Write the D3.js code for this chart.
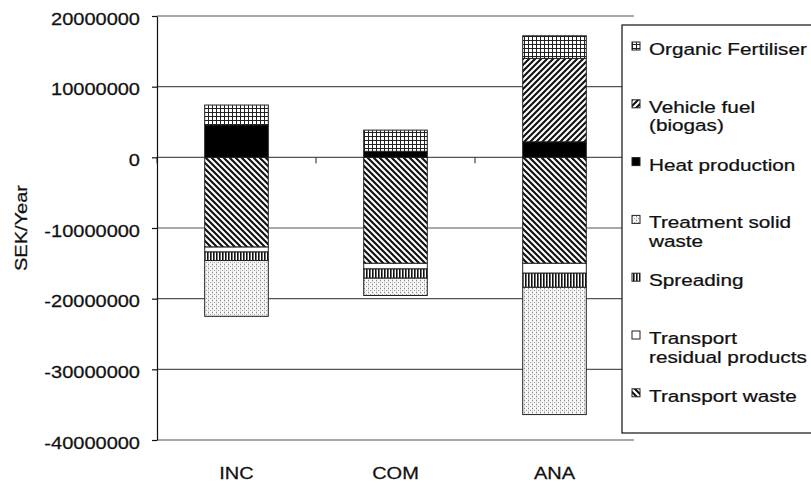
<!DOCTYPE html>
<html>
<head>
<meta charset="utf-8">
<script src="https://cdn.jsdelivr.net/npm/d3@7"></script>
<style>
  html, body { margin: 0; padding: 0; background: #fff; }
  svg { display: block; }
  text { font-family: "Liberation Sans", Arial, sans-serif; fill: #111; stroke: #111; stroke-width: 0.25px; }
</style>
</head>
<body>
<svg id="chart" width="811" height="483"></svg>
<script>
// ---- data (SEK/Year) ----
const categories = ["INC", "COM", "ANA"];
const seriesNames = [
  "Transport waste",
  "Transport residual products",
  "Spreading",
  "Treatment solid waste",
  "Heat production",
  "Vehicle fuel (biogas)",
  "Organic Fertiliser"
];
const transportWaste      = [-12700000, -15000000, -15000000];
const transportResidual   = [  -700000,   -800000,  -1400000];
const spreading           = [ -1200000,  -1300000,  -2000000];
const treatmentSolidWaste = [ -7900000,  -2450000, -18000000];
const heatProduction      = [  4600000,    850000,   2200000];
const vehicleFuel         = [        0,         0,  11800000];
const organicFertiliser   = [  2800000,   3000000,   3200000];
const yTicks = [20000000, 10000000, 0, -10000000, -20000000, -30000000, -40000000];
const yTitle = "SEK/Year";
// legend, top to bottom (reverse series order), with line breaks
const legendLines = [
  ["Organic Fertiliser"],
  ["Vehicle fuel", "(biogas)"],
  ["Heat production"],
  ["Treatment solid", "waste"],
  ["Spreading"],
  ["Transport", "residual products"],
  ["Transport waste"]
];

const seriesValues = [transportWaste, transportResidual, spreading, treatmentSolidWaste,
                      heatProduction, vehicleFuel, organicFertiliser];
const patternIds = ["p-tw", "p-tr", "p-sp", "p-ts", "p-heat", "p-veh", "p-org"];

// ---- setup ----
const svg = d3.select("#chart");
const defs = svg.append("defs");

function pat(id, w, h) {
  return defs.append("pattern").attr("id", id).attr("patternUnits", "userSpaceOnUse")
    .attr("width", w).attr("height", h);
}
// organic fertiliser: small grid
let p = pat("p-org", 4, 4);
p.append("rect").attr("width", 4).attr("height", 4).attr("fill", "#fff");
p.append("rect").attr("width", 4).attr("height", 1).attr("fill", "#222");
p.append("rect").attr("width", 1).attr("height", 4).attr("fill", "#222");
// vehicle fuel: "/" stripes
p = pat("p-veh", 6, 6);
p.append("rect").attr("width", 6).attr("height", 6).attr("fill", "#fff");
p.append("path").attr("d", "M-1,7 L7,-1 M-4,4 L4,-4 M2,10 L10,2")
  .attr("stroke", "#111").attr("stroke-width", 2.1);
// transport waste: "\" stripes
p = pat("p-tw", 6, 6);
p.append("rect").attr("width", 6).attr("height", 6).attr("fill", "#fff");
p.append("path").attr("d", "M-1,-1 L7,7 M-4,2 L4,10 M2,-4 L10,4")
  .attr("stroke", "#111").attr("stroke-width", 2.1);
// heat: solid black
p = pat("p-heat", 4, 4);
p.append("rect").attr("width", 4).attr("height", 4).attr("fill", "#000");
// transport residual: white
p = pat("p-tr", 4, 4);
p.append("rect").attr("width", 4).attr("height", 4).attr("fill", "#fff");
// spreading: vertical lines
p = pat("p-sp", 3, 3);
p.append("rect").attr("width", 3).attr("height", 3).attr("fill", "#fff");
p.append("rect").attr("width", 1.6).attr("height", 3).attr("fill", "#111");
// treatment solid waste: light dots
p = pat("p-ts", 4, 4);
p.append("rect").attr("width", 4).attr("height", 4).attr("fill", "#f7f7f7");
p.append("rect").attr("x", 0).attr("y", 0).attr("width", 1).attr("height", 4).attr("fill", "#dcdcdc");
p.append("rect").attr("x", 0).attr("y", 0).attr("width", 1).attr("height", 1).attr("fill", "#888");
p.append("rect").attr("x", 2).attr("y", 2).attr("width", 1).attr("height", 1).attr("fill", "#999");

const plotLeft = 157, plotRight = 634, plotTop = 16, plotBottom = 440;

const y = d3.scaleLinear().domain([-40000000, 20000000]).range([plotBottom, plotTop]);
const x = d3.scaleBand().domain(categories).range([plotLeft, plotRight])
  .paddingInner(0.6).paddingOuter(0.3);

// text helper with horizontal stretch
function stext(g, str, tx, ty, anchor, size, sx, rot) {
  return g.append("text")
    .attr("transform", `translate(${tx},${ty})` + (rot ? ` rotate(${rot})` : "") + ` scale(${sx},1)`)
    .attr("text-anchor", anchor)
    .attr("font-size", size)
    .text(str);
}

// gridlines
svg.append("g").selectAll("line").data(yTicks).join("line")
  .attr("x1", plotLeft).attr("x2", plotRight)
  .attr("y1", d => y(d)).attr("y2", d => y(d))
  .attr("stroke", "#555").attr("stroke-width", 1.2);

// category ticks on the zero line
const boundaries = d3.range(categories.length + 1).map(i => plotLeft + i * x.step());
svg.append("g").selectAll("line").data(boundaries).join("line")
  .attr("x1", d => d).attr("x2", d => d)
  .attr("y1", y(0)).attr("y2", y(0) + 6)
  .attr("stroke", "#222").attr("stroke-width", 1);

// stacked bars
const rows = categories.map((c, i) => {
  const r = { cat: c };
  seriesNames.forEach((s, k) => r[s] = seriesValues[k][i]);
  return r;
});
const stack = d3.stack().keys(seriesNames).offset(d3.stackOffsetDiverging);
const layers = stack(rows);
const barG = svg.append("g");
layers.forEach((layer, k) => {
  barG.append("g").selectAll("rect")
    .data(layer.filter(d => d[1] !== d[0]))
    .join("rect")
    .attr("x", d => x(d.data.cat))
    .attr("width", x.bandwidth())
    .attr("y", d => y(Math.max(d[0], d[1])))
    .attr("height", d => Math.abs(y(d[0]) - y(d[1])))
    .attr("fill", `url(#${patternIds[k]})`)
    .attr("stroke", "#222").attr("stroke-width", 1);
});

// y axis
const yAxis = d3.axisLeft(y).tickValues(yTicks).tickSize(5).tickSizeOuter(0)
  .tickFormat(d => String(d));
const ag = svg.append("g").attr("transform", `translate(${plotLeft},0)`).call(yAxis);
ag.select(".domain").attr("stroke", "#111").attr("stroke-width", 1.2);
ag.selectAll(".tick line").attr("stroke", "#111").attr("stroke-width", 1.2);
ag.selectAll(".tick text")
  .attr("x", 0).attr("dy", "0.5em")
  .attr("transform", "translate(-17,0) scale(1.25,1)")
  .attr("font-size", 16).attr("fill", "#111")
  .attr("font-family", "Liberation Sans, Arial, sans-serif");

// y title
stext(svg, yTitle, 27, 228, "middle", 16, 1.25, -90);

// category labels
categories.forEach(c => {
  stext(svg, c, x(c) + x.bandwidth() / 2, 479, "middle", 16, 1.25);
});

// legend
const lg = svg.append("g");
lg.append("rect").attr("x", 622).attr("y", 25).attr("width", 200).attr("height", 408)
  .attr("fill", "#fff").attr("stroke", "#111").attr("stroke-width", 1.2);
const legendPatterns = patternIds.slice().reverse();
legendLines.forEach((lines, i) => {
  const base = 55 + i * 57.8;
  lg.append("rect").attr("x", 632).attr("y", base - 13).attr("width", 8).attr("height", 8)
    .attr("fill", `url(#${legendPatterns[i]})`).attr("stroke", "#222").attr("stroke-width", 1);
  lines.forEach((ln, j) => {
    stext(lg, ln, 649, base + j * 18.5, "start", 17, 1.22);
  });
});
</script>
</body>
</html>
